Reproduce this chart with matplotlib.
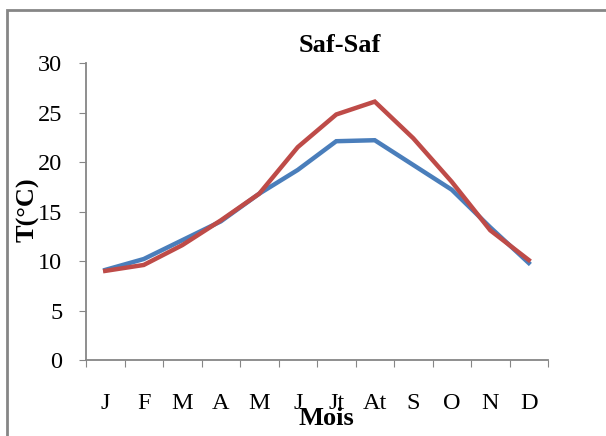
import matplotlib
matplotlib.use('Agg')
import matplotlib.pyplot as plt
from matplotlib.patches import Rectangle

mois = ['J', 'F', 'M', 'A', 'M', 'J', 'Jt', 'At', 'S', 'O', 'N', 'D']
serie_bleue = [9.1, 10.2, 12.1, 14.0, 16.8, 19.2, 22.1, 22.2, 19.7, 17.2, 13.4, 9.8]
serie_rouge = [9.0, 9.6, 11.6, 14.1, 16.8, 21.5, 24.8, 26.1, 22.4, 18.0, 13.1, 10.1]
yticks = [0, 5, 10, 15, 20, 25, 30]

plt.rcParams['font.family'] = 'Liberation Serif'

fig = plt.figure(figsize=(6.06, 4.36), dpi=100)
ax = fig.add_axes([86/606, 1 - 360/436, 462/606, 297/436])

x = range(len(mois))
ax.plot(x, serie_bleue, color='#4A7EBB', lw=3.2, solid_joinstyle='miter')
ax.plot(x, serie_rouge, color='#BE4B48', lw=3.2, solid_joinstyle='miter')

ax.set_xlim(-0.5, len(mois) - 0.5)
ax.set_ylim(0, 30)
ax.set_yticks(yticks)
ax.set_xticks([i - 0.5 for i in range(len(mois) + 1)], minor=False)
ax.set_xticklabels([])
ax.set_xticks(list(x), minor=True)
ax.set_xticklabels(mois, minor=True, fontsize=17.5)
ax.tick_params(axis='x', which='minor', length=0, pad=24)
ax.tick_params(axis='x', which='major', length=5, color='#868686', direction='out')
ax.tick_params(axis='y', length=5, color='#868686', labelsize=17.5, pad=12)

for s in ['top', 'right']:
    ax.spines[s].set_visible(False)
for s in ['left', 'bottom']:
    ax.spines[s].set_color('#868686')
    ax.spines[s].set_linewidth(1.3)

fig.text(340/606, 1 - 45/436, 'Saf-Saf', fontsize=19, fontweight='bold',
         ha='center', va='center')
fig.text(326/606, 1 - 418/436, 'Mois', fontsize=19, fontweight='bold',
         ha='center', va='center')
fig.text(28/606, 1 - 210/436, 'T(°C)', fontsize=19, fontweight='bold',
         ha='center', va='center', rotation=90)

fig.patches.append(Rectangle((7/606, -0.1), 1.2, 1 - 10/436 + 0.1,
                             transform=fig.transFigure, fill=False,
                             edgecolor='#868686', lw=2))

fig.savefig('out.png', dpi=100)
